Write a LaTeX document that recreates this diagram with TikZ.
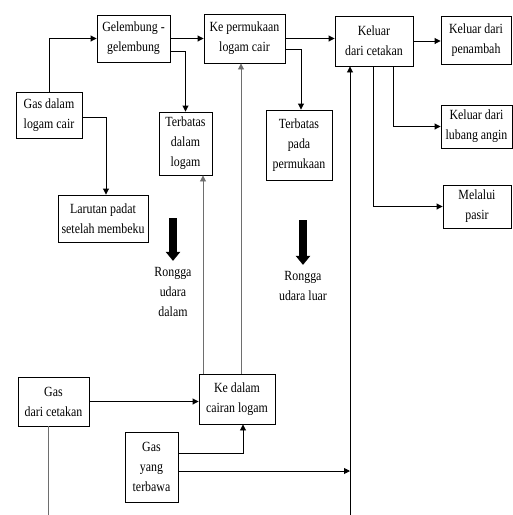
\documentclass[tikz,border=0pt]{standalone}
\usepackage{fontspec}
\setmainfont[FakeStretch=0.85]{Liberation Serif}
\usetikzlibrary{arrows.meta, positioning, calc}
\definecolor{cline}{HTML}{6E6E6E}
\tikzset{
  every picture/.style={line width=0.9pt},
  box/.style={draw, rectangle, align=center, inner sep=2pt, font=\rmfamily\fontsize{14}{20}\selectfont},
  arrow/.style={-{Triangle[length=6pt, width=6pt]}, draw=black, line width=0.9pt},
  fat/.style={line width=8pt, -{Triangle[length=9pt, width=14pt]}, shorten >=4pt},
  note/.style={align=center, inner sep=2pt, font=\rmfamily\fontsize{14}{20}\selectfont},
}
\begin{document}
\begin{tikzpicture}[x=1pt, y=-1pt]
  \useasboundingbox (0,0) rectangle (513,515);
  \foreach \nm/\x/\y/\w/\h/\t in {
     gasdalam/49/115/66/46/{Gas dalam\\logam cair},
     gelembung/133.5/38.5/73/47/{Gelembung -\\gelembung},
     permukaan/244.5/38.5/81/49/{Ke permukaan\\logam cair},
     keluar/374/41/78/50/{Keluar\\dari cetakan},
     penambah/476/40/70/48/{Keluar dari\\penambah},
     angin/476.5/126.5/71/43/{Keluar dari\\lubang angin},
     pasir/477/206.5/68/43/{Melalui\\pasir},
     tdalam/185.5/143.5/53/63/{Terbatas\\dalam\\logam},
     tpermukaan/299/145/66/70/{Terbatas\\pada\\permukaan},
     larutan/103/218.5/90/47/{Larutan padat\\setelah membeku},
     gascetak/53.5/401.5/71/49/{Gas\\dari cetakan},
     kedalam/237/399/76/50/{Ke dalam\\cairan logam},
     terbawa/151.5/467/53/70/{Gas\\yang\\terbawa}} {
    \node[box, minimum width=\w pt, minimum height=\h pt] (\nm) at (\x,\y) {\t};
  }
  \node[note] (rdalam) at (173,292) {Rongga\\udara\\dalam};
  \node[note] (rluar) at (303,286) {Rongga\\udara luar};
  \coordinate (f1) at (173,218);
  \coordinate (f2) at (303,220);
  \draw[fat] (f1) -- (rdalam.north);
  \draw[fat] (f2) -- (rluar.north);
  % gas di dalam logam cair
  \draw[arrow] (gasdalam.north) |- (gelembung.west);
  \draw[arrow] ([yshift=-2pt]gasdalam.east) -| ([xshift=3pt]larutan.north);
  \draw[arrow] (gelembung) -- (permukaan);
  \draw[arrow] ([yshift=-12.5pt]gelembung.east) -| (tdalam.north);
  \draw[arrow] (permukaan.east) -- (permukaan.east -| keluar.west);
  \draw[arrow] ([yshift=-10.5pt]permukaan.east) -| ([xshift=2pt]tpermukaan.north);
  % keluar dari cetakan
  \draw[arrow] (keluar.east) -- (keluar.east -| penambah.west);
  \draw[arrow] ([xshift=19pt]keluar.south) |- (angin.west);
  \draw[arrow] ([xshift=-1pt]keluar.south) |- (pasir.west);
  \coordinate (bawah) at (350,515);
  \coordinate (jt) at (350,471);
  \draw[arrow] (bawah) -- (bawah |- keluar.south);
  \draw[arrow] (terbawa.east |- jt) -- (jt);
  % gas dari luar
  \draw[arrow] ([yshift=14pt]terbawa.east) -| ([xshift=6pt]kedalam.south);
  \draw[arrow] (gascetak.east) -- (gascetak.east -| kedalam.west);
  \coordinate (gcb) at (48,515);
  \draw[cline] (gcb |- gascetak.south) -- (gcb);
  \draw[arrow, draw=cline] ([xshift=-34pt]kedalam.north) -- ([xshift=-34pt]kedalam.north |- tdalam.south);
  \draw[arrow, draw=cline] ([xshift=4pt]kedalam.north) -- ([xshift=4pt]kedalam.north |- permukaan.south);
\end{tikzpicture}
\end{document}
